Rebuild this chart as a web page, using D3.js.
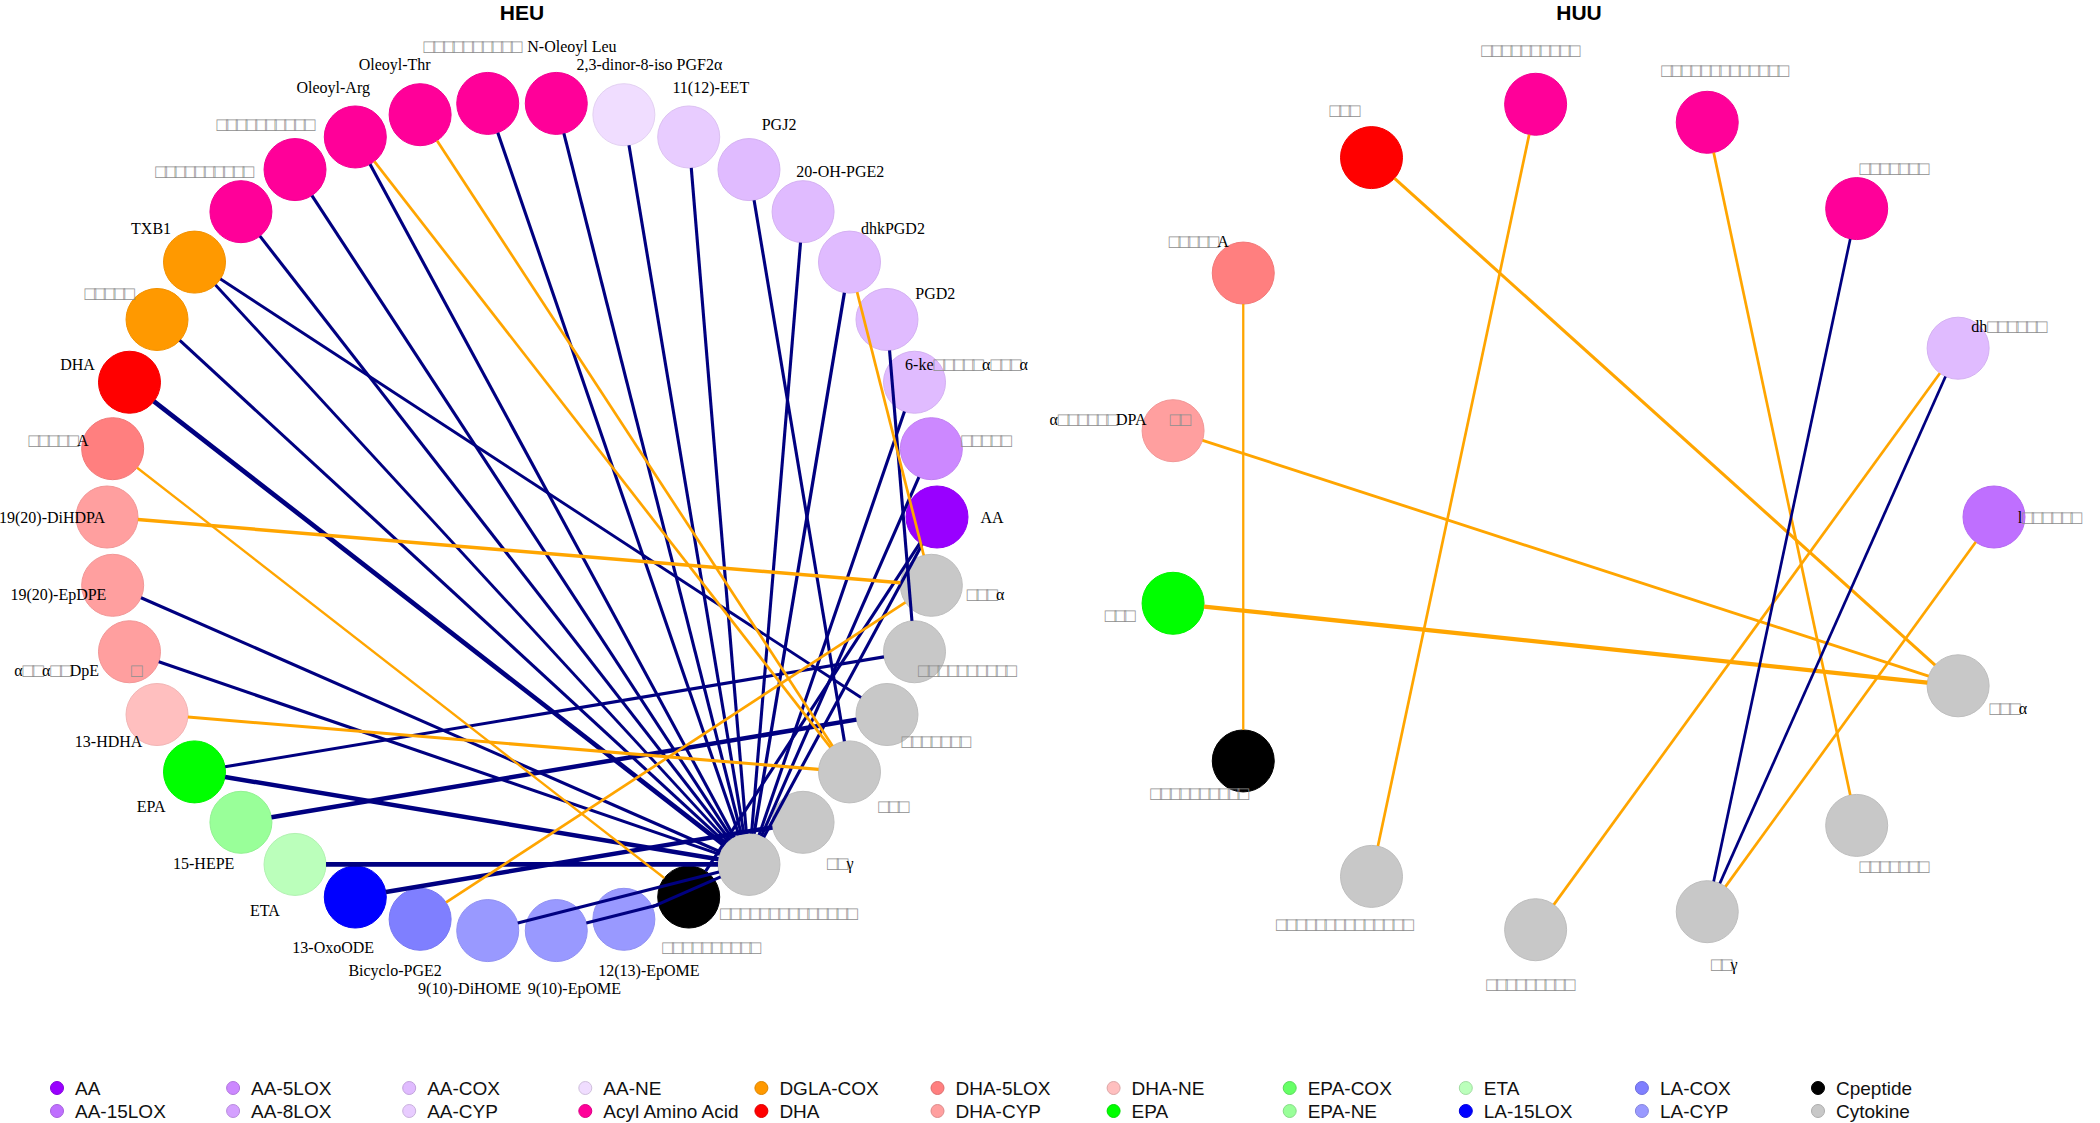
<!DOCTYPE html>
<html><head><meta charset="utf-8">
<script src="https://cdn.jsdelivr.net/npm/d3@7"></script>
<style>body{margin:0;background:#fff}svg{display:block}</style>
</head><body>
<svg id="chart" width="2100" height="1123"></svg>
<script>
// ---------- data ----------
const groups = ["AA","AA-15LOX","AA-5LOX","AA-8LOX","AA-COX","AA-CYP","AA-NE","Acyl Amino Acid","DGLA-COX","DHA","DHA-5LOX","DHA-CYP","DHA-NE","EPA","EPA-COX","EPA-NE","ETA","LA-15LOX","LA-COX","LA-CYP","Cpeptide","Cytokine"];
const groupColors = ["#9900FF","#BF6FFF","#CC88FF","#D4A0FF","#E0BBFF","#E8CCFF","#F0DDFF","#FF0099","#FF9900","#FF0000","#FF7F7F","#FF9F9F","#FFBFBF","#00FF00","#66FF66","#99FF99","#BBFFBB","#0000FF","#7F7FFF","#9999FF","#000000","#C8C8C8"];

const panelTitles = ["HEU","HUU"];

const heuLabels = ["AA","□□□□□","6-ke□□□□□α□□□α","PGD2","dhkPGD2","20-OH-PGE2","PGJ2","11(12)-EET","2,3-dinor-8-iso PGF2α",
  "N-Oleoyl Leu","□□□□□□□□□□","Oleoyl-Thr","Oleoyl-Arg","□□□□□□□□□□","□□□□□□□□□□","TXB1","□□□□□","DHA","□□□□□A",
  "19(20)-DiHDPA","19(20)-EpDPE","α□□α□□DpE        □","13-HDHA","EPA","15-HEPE","ETA","13-OxoODE","Bicyclo-PGE2",
  "9(10)-DiHOME","9(10)-EpOME","12(13)-EpOME","□□□□□□□□□□","□□□□□□□□□□□□□□","□□γ","□□□","□□□□□□□","□□□□□□□□□□","□□□α"];
const heuGroups = ["AA","AA-5LOX","AA-COX","AA-COX","AA-COX","AA-COX","AA-COX","AA-CYP","AA-NE",
  "Acyl Amino Acid","Acyl Amino Acid","Acyl Amino Acid","Acyl Amino Acid","Acyl Amino Acid","Acyl Amino Acid","DGLA-COX","DGLA-COX","DHA","DHA-5LOX",
  "DHA-CYP","DHA-CYP","DHA-CYP","DHA-NE","EPA","EPA-NE","ETA","LA-15LOX","LA-COX",
  "LA-CYP","LA-CYP","LA-CYP","Cpeptide","Cytokine","Cytokine","Cytokine","Cytokine","Cytokine","Cytokine"];
const heuEdgeFrom = [0,1,2,4,5,7,8,9,10,12,13,14,15,16,17,20,21,23,25,28,30, 3,15,23,24,26,6,0,29, 11,12,18,19,22,27,4];
const heuEdgeTo   = [32,32,32,32,32,32,32,32,32,32,32,32,32,32,32,32,32,32,32,32,32, 36,35,36,35,33,34,31,31, 34,34,31,37,34,37,37];
const heuEdgeR    = [0.55,0.55,0.55,0.57,0.55,0.55,0.55,0.55,0.55,0.55,0.55,0.55,0.52,0.55,0.75,0.55,0.55,0.72,0.75,0.55,0.55,
                     0.55,0.52,0.55,0.72,0.72,0.55,0.55,0.55,
                     -0.5,-0.5,-0.45,-0.6,-0.55,-0.5,-0.5];

const huuLabels = ["l□□□□□□","dh□□□□□□","□□□□□□□","□□□□□□□□□□□□□","□□□□□□□□□□","□□□","□□□□□A","α□□□□□□DPA      □□","□□□",
  "□□□□□□□□□□","□□□□□□□□□□□□□□","□□□□□□□□□","□□γ","□□□□□□□","□□□α"];
const huuGroups = ["AA-15LOX","AA-COX","Acyl Amino Acid","Acyl Amino Acid","Acyl Amino Acid","DHA","DHA-5LOX","DHA-CYP","EPA",
  "Cpeptide","Cytokine","Cytokine","Cytokine","Cytokine","Cytokine"];
const huuEdgeFrom = [6,4,5,3,1,0,7,8,2,1];
const huuEdgeTo   = [9,10,14,13,11,12,14,14,12,12];
const huuEdgeR    = [-0.45,-0.5,-0.55,-0.5,-0.5,-0.5,-0.52,-0.7,0.5,0.5];

// ---------- drawing ----------
const svg = d3.select("#chart");
const color = d3.scaleOrdinal(groups, groupColors);
const widthScale = d3.scaleLinear().domain([0.45, 0.75]).range([2.3, 4.7]);
const edgeColor = r => r > 0 ? "#000080" : "#FFA500";
const NODE_R = 31;
const LABEL_DIST = 55;
const FS = 16;
const BOX_FS = 19, BOX_ADV = 9.7;
const SERIF = "'Liberation Serif','Times New Roman',serif";

// measure the advance of the box glyph to set spacing
const probe = svg.append("text").attr("font-family", SERIF).attr("font-size", BOX_FS).text("□□□□□□□□□□");
const boxSpacing = BOX_ADV - probe.node().getComputedTextLength() / 10;
probe.remove();

const yScale = d3.scaleLinear().domain([-1, 1]).range([932, 102]);
const panels = [
  {title: panelTitles[0], labels: heuLabels, groups: heuGroups, from: heuEdgeFrom, to: heuEdgeTo, r: heuEdgeR,
   x: d3.scaleLinear().domain([-1, 1]).range([107, 937])},
  {title: panelTitles[1], labels: huuLabels, groups: huuGroups, from: huuEdgeFrom, to: huuEdgeTo, r: huuEdgeR,
   x: d3.scaleLinear().domain([-1, 1]).range([1164, 1994])}
];

function addText(sel, str) {
  str.split(/(□+)/).filter(s => s.length).forEach(s => {
    const t = sel.append("tspan").text(s);
    if (s[0] === "□") t.attr("fill", "#8f8f8f").attr("font-size", BOX_FS).attr("letter-spacing", boxSpacing);
    else t.attr("fill", "#000");
  });
}

function repel(labs, pts) {
  const PX = 10, PY = 3;
  for (let it = 0; it < 500; it++) {
    for (let i = 0; i < labs.length; i++) for (let j = i + 1; j < labs.length; j++) {
      const a = labs[i], b = labs[j];
      const dx = b.x - a.x, dy = b.y - a.y;
      const hx = (a.w + b.w) / 2 + PX, hy = (a.h + b.h) / 2 + PY;
      if (Math.abs(dx) < hx && Math.abs(dy) < hy) {
        const L = Math.hypot(dx, dy) || 0.01;
        const ux = dx / L, uy = dy / L;
        const tx = Math.abs(ux) > 1e-6 ? hx / Math.abs(ux) : Infinity;
        const ty = Math.abs(uy) > 1e-6 ? hy / Math.abs(uy) : Infinity;
        const m = (Math.min(tx, ty) - L) * 0.2;
        a.x -= ux * m; a.y -= uy * m;
        b.x += ux * m; b.y += uy * m;
      }
    }
    labs.forEach(l => pts.forEach((n, k) => {
      if (k === l.idx) return;
      const cx = Math.max(l.x - l.w / 2, Math.min(n.x, l.x + l.w / 2));
      const cy = Math.max(l.y - l.h / 2, Math.min(n.y, l.y + l.h / 2));
      let ddx = cx - n.x, ddy = cy - n.y;
      const d = Math.hypot(ddx, ddy);
      if (d < NODE_R + 2) {
        if (d < 1e-6) { ddx = l.x - n.x; ddy = l.y - n.y; }
        const dd = Math.hypot(ddx, ddy) || 1;
        const push = (NODE_R + 2 - d) * 0.4;
        l.x += ddx / dd * push; l.y += ddy / dd * push;
      }
    }));
    labs.forEach(l => { l.x += (l.ax - l.x) * 0.03; l.y += (l.ay - l.y) * 0.03; });
  }
}

panels.forEach(p => {
  const n = p.labels.length;
  const nodes = p.labels.map((lab, i) => {
    const t = 2 * Math.PI * i / n;
    return {i, lab, grp: p.groups[i], t, x: p.x(Math.cos(t)), y: yScale(Math.sin(t))};
  });
  const g = svg.append("g");

  // title
  g.append("text").attr("x", p.x(0)).attr("y", 20).attr("text-anchor", "middle")
    .attr("font-family", "'Liberation Sans Narrow','Liberation Sans',Arial,sans-serif")
    .attr("font-weight", "bold").attr("font-size", 21).text(p.title);

  // nodes
  g.append("g").selectAll("circle").data(nodes).join("circle")
    .attr("cx", d => d.x).attr("cy", d => d.y).attr("r", NODE_R)
    .attr("fill", d => color(d.grp))
    .attr("stroke", d => d3.color(color(d.grp)).darker(0.15)).attr("stroke-width", 1);

  // edges (drawn over nodes, capped at node boundary)
  const edges = p.from.map((f, k) => ({a: nodes[f], b: nodes[p.to[k]], r: p.r[k]}));
  g.append("g").selectAll("line").data(edges).join("line")
    .each(function(e) {
      const dx = e.b.x - e.a.x, dy = e.b.y - e.a.y, L = Math.hypot(dx, dy);
      const ux = dx / L, uy = dy / L;
      d3.select(this).attr("x1", e.a.x + ux * NODE_R).attr("y1", e.a.y + uy * NODE_R)
        .attr("x2", e.b.x - ux * NODE_R).attr("y2", e.b.y - uy * NODE_R);
    })
    .attr("stroke", e => edgeColor(e.r)).attr("stroke-width", e => widthScale(Math.abs(e.r)));

  // labels
  const lg = g.append("g").attr("font-family", SERIF).attr("font-size", FS);
  const texts = lg.selectAll("text").data(nodes).join("text")
    .attr("text-anchor", "middle").attr("dominant-baseline", "central")
    .style("white-space", "pre")
    .each(function(d) { addText(d3.select(this), d.lab); });
  const labs = [];
  texts.each(function(d) {
    const w = this.getComputedTextLength();
    const ax = d.x + LABEL_DIST * Math.cos(d.t), ay = d.y - LABEL_DIST * Math.sin(d.t);
    labs.push({idx: d.i, ax, ay, x: ax, y: ay, w, h: FS});
  });
  repel(labs, nodes);
  texts.attr("x", (d, i) => labs[i].x).attr("y", (d, i) => labs[i].y);
});

// legend
const legendCols = Math.ceil(groups.length / 2);
const legendX = d3.scaleLinear().domain([0, legendCols - 1]).range([57, 1818]);
const legendY = d3.scaleLinear().domain([0, 1]).range([1088, 1111]);
const lgd = svg.append("g").attr("font-family", "'Liberation Sans',Arial,sans-serif").attr("font-size", 19);
const items = lgd.selectAll("g").data(groups).join("g")
  .attr("transform", (d, i) => `translate(${legendX(Math.floor(i / 2))},${legendY(i % 2)})`);
items.append("circle").attr("r", 6.5).attr("fill", d => color(d))
  .attr("stroke", d => d3.color(color(d)).darker(0.4)).attr("stroke-width", 1);
items.append("text").attr("x", 18).attr("dominant-baseline", "central").attr("fill", "#111").text(d => d);
</script>
</body></html>
